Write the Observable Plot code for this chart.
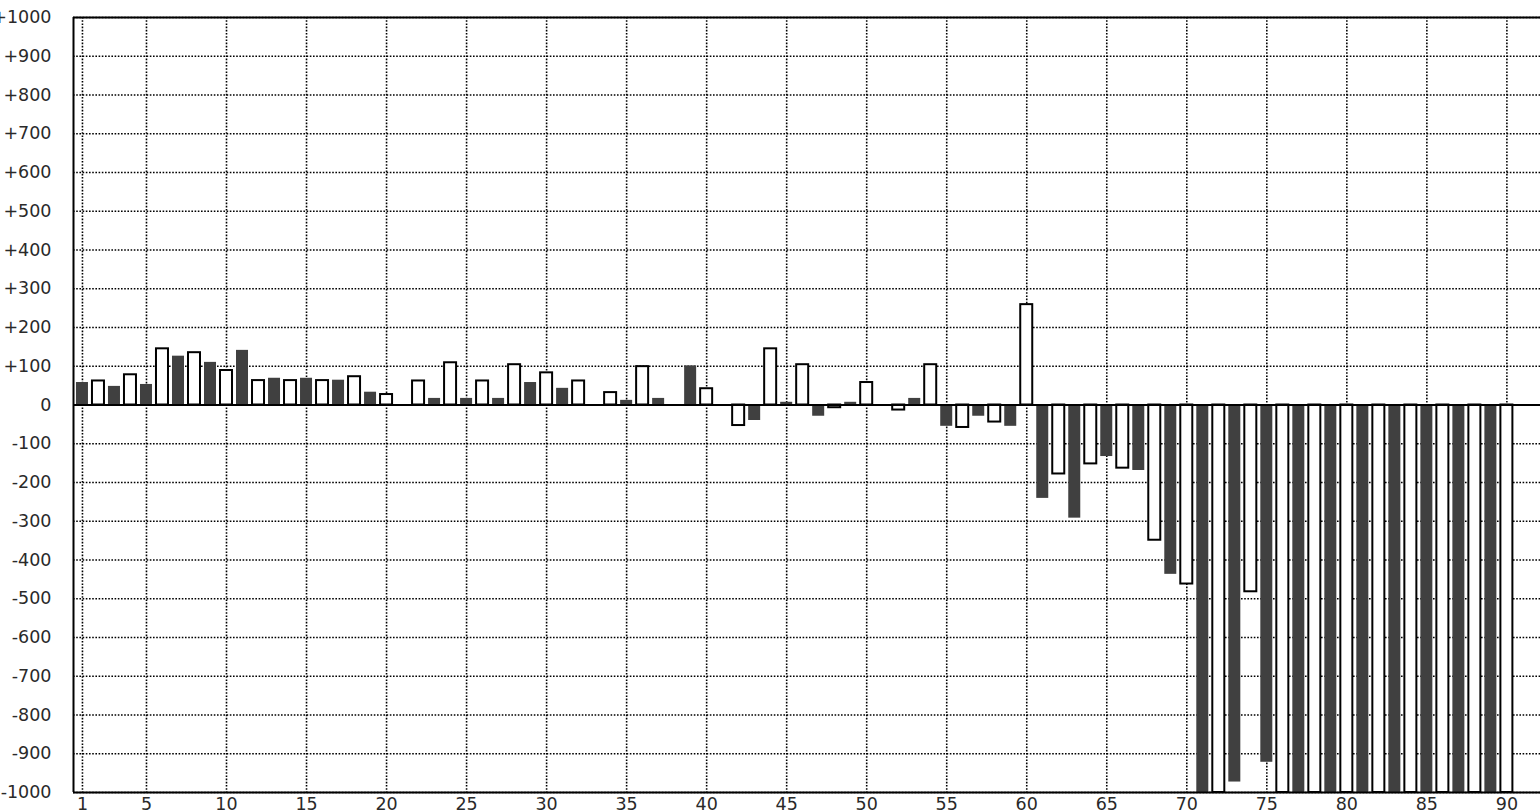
<!DOCTYPE html>
<html>
<head>
<meta charset="utf-8">
<script src="https://cdn.jsdelivr.net/npm/d3@7"></script>
<script src="https://cdn.jsdelivr.net/npm/@observablehq/plot@0.6"></script>
<style>
html, body { margin: 0; padding: 0; background: #fff; overflow: hidden; }
</style>
</head>
<body>
<div id="chart"></div>
<script>
const positions = [1,2,3,4,5,6,7,8,9,10,11,12,13,14,15,16,17,18,19,20,
  21,22,23,24,25,26,27,28,29,30,31,32,33,34,35,36,37,38,39,40,
  41,42,43,44,45,46,47,48,49,50,51,52,53,54,55,56,57,58,59,60,
  61,62,63,64,65,66,67,68,69,70,71,72,73,74,75,76,77,78,79,80,
  81,82,83,84,85,86,87,88,89,90];
const values = [58,62,48,78,53,145,126,135,110,89,141,63,69,63,69,63,64,73,33,27,
  0,62,17,109,17,62,17,104,58,83,43,62,0,32,12,99,17,0,101,42,
  0,-53,-40,145,7,104,-29,-7,7,58,0,-13,17,104,-55,-58,-29,-44,-55,259,
  -241,-178,-292,-152,-133,-163,-169,-349,-437,-462,-1000,-1000,-973,-482,-922,-1000,-1000,-1000,-1000,-1000,
  -1000,-1000,-1000,-1000,-1000,-1000,-1000,-1000,-1000,-1000];
const xTicks = [1,5,10,15,20,25,30,35,40,45,50,55,60,65,70,75,80,85,90];
const yTicks = [-1000,-900,-800,-700,-600,-500,-400,-300,-200,-100,0,100,200,300,400,500,600,700,800,900,1000];

const data = positions.map((p, k) => ({p, v: values[k], series: p % 2 === 1 ? "dark" : "light"}))
  .filter(d => d.v !== 0);
const darkBars = data.filter(d => d.series === "dark");
const lightBars = data.filter(d => d.series === "light");

const xDomain = [0.44, 92.1];
const yDomain = [-1000, 1000];
const dots = {stroke: "#000", strokeOpacity: 1, strokeWidth: 1.6, strokeDasharray: "1.6,1.6"};

const chart = Plot.plot({
  width: 1540,
  height: 812,
  marginTop: 17,
  marginBottom: 20,
  marginLeft: 73,
  marginRight: 0,
  style: {fontFamily: "'DejaVu Sans', sans-serif", fontSize: "17.5px", color: "#2a2a2a", background: "#fff"},
  x: {domain: xDomain},
  y: {domain: yDomain},
  marks: [
    Plot.gridX(xTicks, dots),
    Plot.gridY(yTicks, dots),
    Plot.rect(darkBars, {x1: d => d.p - 0.5, x2: d => d.p + 0.5, y1: 0, y2: "v", fill: "#404040", insetLeft: 2, insetRight: 2}),
    Plot.rect(lightBars, {x1: d => d.p - 0.5, x2: d => d.p + 0.5, y1: 0, y2: "v", fill: "#fff", stroke: "#000", strokeWidth: 2, insetLeft: 2, insetRight: 2}),
    Plot.ruleY([0], {stroke: "#000", strokeWidth: 2}),
    Plot.ruleY([yDomain[1]], {stroke: "#000", strokeWidth: 2}),
    Plot.ruleY([yDomain[0]], {stroke: "#000", strokeWidth: 2}),
    Plot.ruleX([xDomain[0]], {stroke: "#000", strokeWidth: 2}),
    Plot.axisX(xTicks, {tickSize: 0, tickPadding: 5, tickFormat: d => String(d), label: null}),
    Plot.axisY(yTicks, {tickSize: 0, tickPadding: 22, label: null,
      tickFormat: d => d > 0 ? "+" + d : d < 0 ? "-" + Math.abs(d) : "0"})
  ]
});
document.getElementById("chart").appendChild(chart);
</script>
</body>
</html>
